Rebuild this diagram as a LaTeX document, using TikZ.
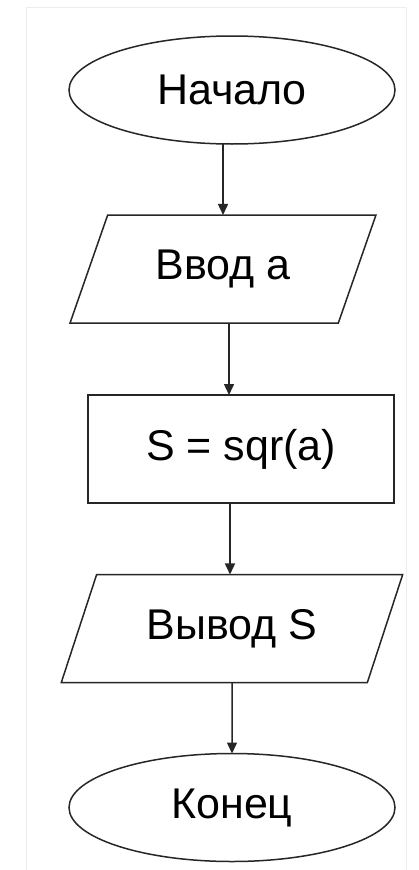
\documentclass[tikz,border=0pt]{standalone}
\usepackage{fontspec}
\setmainfont{Liberation Sans}
\usetikzlibrary{shapes.geometric,arrows.meta}
\begin{document}
\begin{tikzpicture}[x=1pt,y=-1pt,
  every node/.style={font=\fontsize{43}{49}\selectfont, text=black, outer sep=0pt, inner sep=0pt},
  shapeline/.style={draw=black!85, line width=1.5pt},
  term/.style={shapeline, ellipse, minimum width=326pt, minimum height=108pt},
  io/.style={shapeline, trapezium, trapezium left angle=60, trapezium right angle=120,
    trapezium stretches=true, minimum height=108pt},
  proc/.style={shapeline, rectangle, minimum width=306pt, minimum height=108pt},
  arr/.style={draw=black!85, line width=1.5pt, -{Triangle[length=11pt,width=10pt]}}
]
\useasboundingbox (0,0) rectangle (418,870);
\fill[white] (0,0) rectangle (418,870);
\draw[black!7, line width=1pt] (26,870) -- (26,7) -- (406,7) -- (406,870);

\node[term] (start) at (232,90) {Начало};
\node[io, minimum width=306pt] (in) at (223,269) {Ввод а};
\node[proc] (calc) at (241,449) {S = sqr(a)};
\node[io, minimum width=342pt] (out) at (232,628.5) {Вывод S};
\node[term] (end) at (232,807.5) {Конец};

\draw[arr] (in.north |- start.south) -- (in.north);
\draw[arr] ([xshift=6pt]in.south) -- ([xshift=6pt]in.south |- calc.north);
\draw[arr] ([xshift=-11pt]calc.south) -- ([xshift=-11pt]calc.south |- out.north);
\draw[arr] (out.south) -- (end.north);
\end{tikzpicture}
\end{document}
